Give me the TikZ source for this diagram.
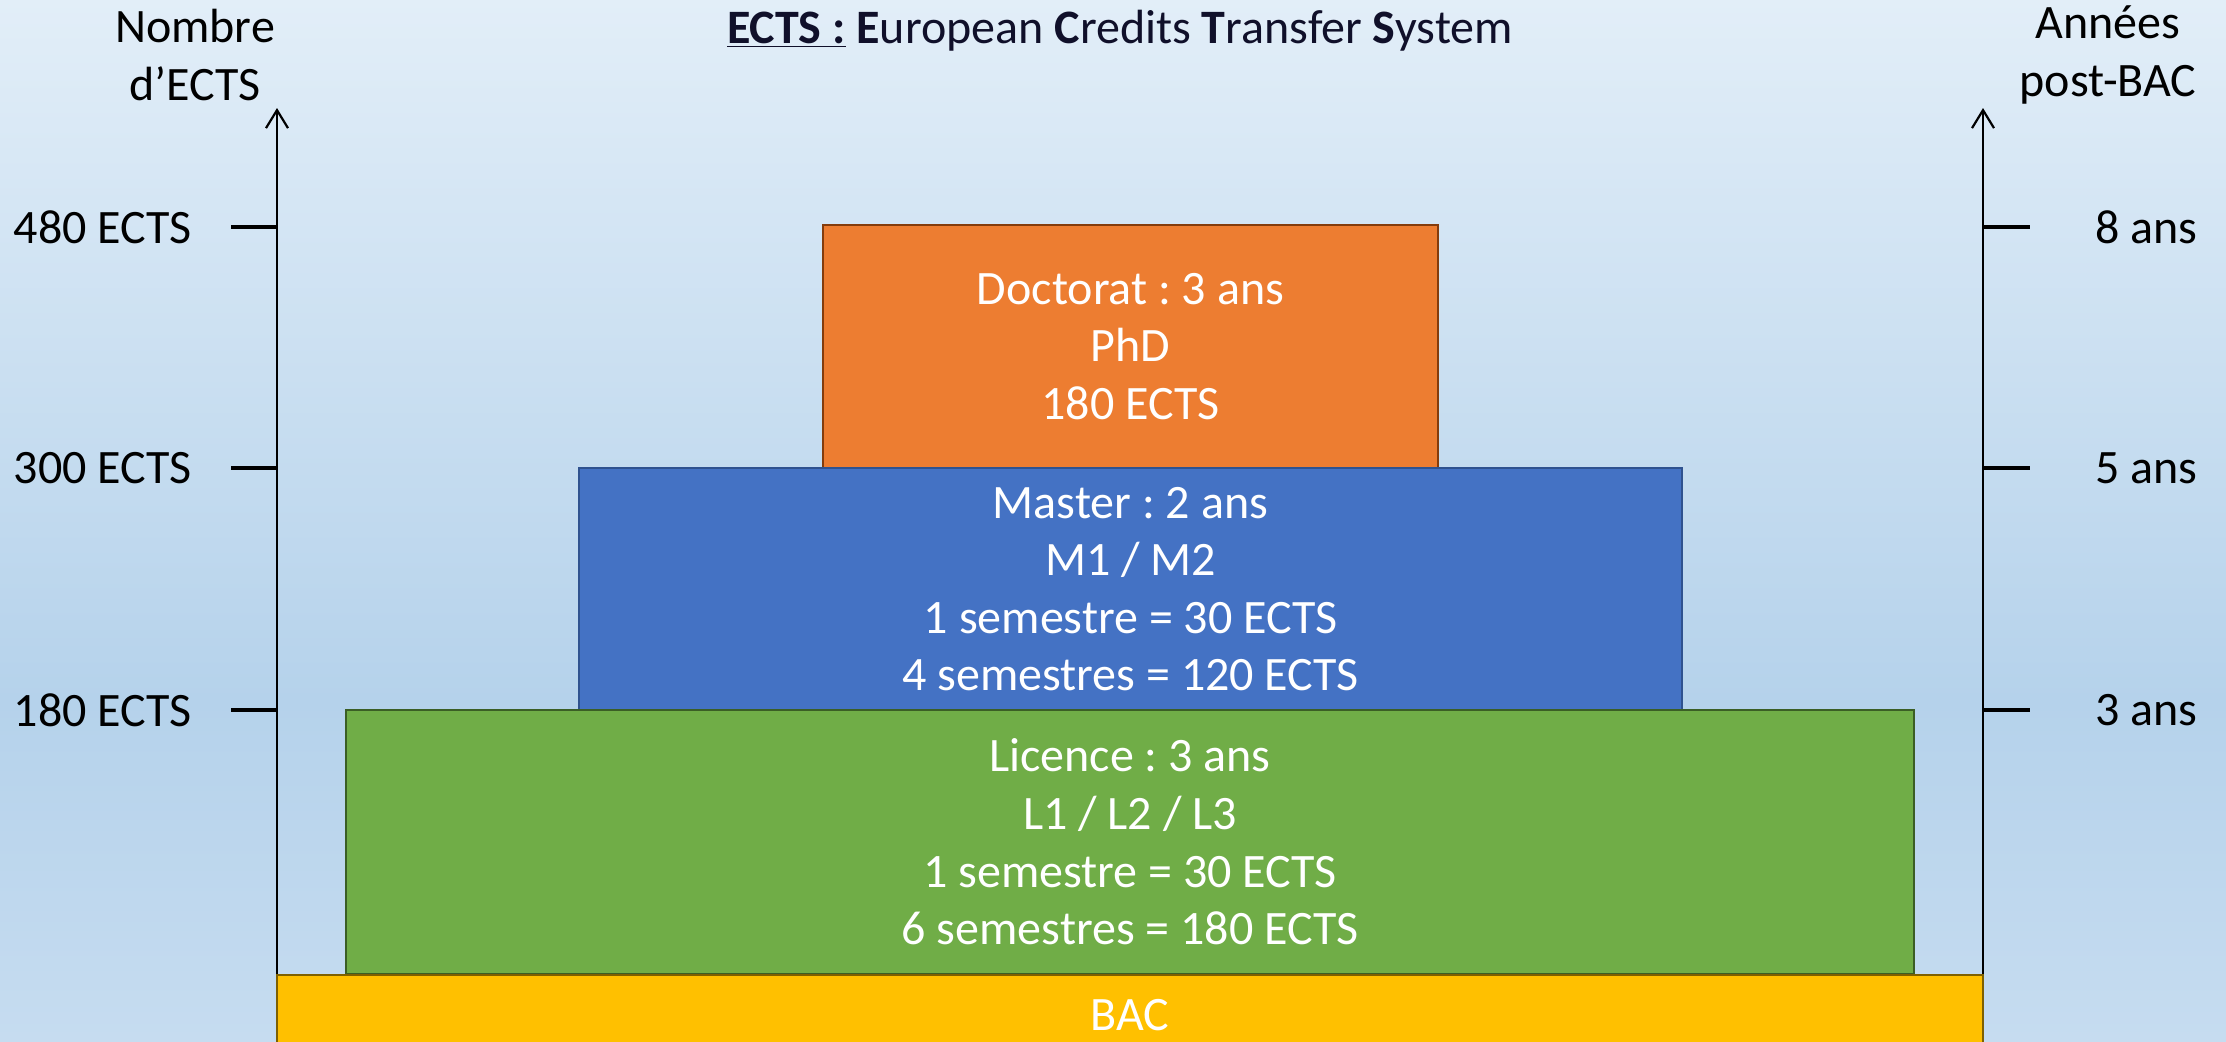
\documentclass[tikz,border=0pt]{standalone}
\usepackage{fontspec}
\setmainfont{Carlito}
\usetikzlibrary{arrows.meta}
\frenchspacing
\definecolor{bgtop}{HTML}{E2EEF8}
\definecolor{bgmid}{HTML}{B5D2EB}
\definecolor{bgbot}{HTML}{C6DCF0}
\definecolor{docfill}{HTML}{ED7D31}
\definecolor{docline}{HTML}{843C0C}
\definecolor{masfill}{HTML}{4472C4}
\definecolor{masline}{HTML}{2F528F}
\definecolor{licfill}{HTML}{70AD47}
\definecolor{licline}{HTML}{3B5E25}
\definecolor{bacfill}{HTML}{FFC000}
\definecolor{bacline}{HTML}{7F6000}
\definecolor{titlecol}{HTML}{10102A}
\begin{document}
\begin{tikzpicture}[x=0.5pt,y=-0.5pt,
  txt/.style={font=\frenchspacing\fontsize{24}{28.8}\selectfont, inner sep=0pt},
  lvl/.style={txt, draw, line width=1pt, text=white, align=center},
  axis/.style={line width=1.25pt, -{Straight Barb[length=9pt,width=11pt,line width=1.1pt]}},
  tick/.style={line width=1.75pt}]
\useasboundingbox (0,0) rectangle (2226,1041);
\shade[top color=bgtop, bottom color=bgmid] (0,0) rectangle (2226,700);
\shade[top color=bgmid, bottom color=bgbot] (0,700) rectangle (2226,1041);

% title
\node[txt, text=titlecol, anchor=base] (title) at (1120,43)
  {\underline{\textbf{ECTS :}} \textbf{E}uropean \textbf{C}redits \textbf{T}ransfer \textbf{S}ystem};

% boxes
\node[lvl, fill=docfill, draw=docline, minimum width=307.5pt, minimum height=121.5pt] (doc) at (1130.5,346.5)
  {Doctorat : 3 ans\\PhD\\180 ECTS};
\node[lvl, fill=masfill, draw=masline, minimum width=551.5pt, minimum height=121pt] (mas) at (1130.5,589)
  {Master : 2 ans\\M1 / M2\\1 semestre = 30 ECTS\\4 semestres = 120 ECTS};
\node[lvl, fill=licfill, draw=licline, minimum width=784pt, minimum height=132pt] (lic) at (1130,842)
  {Licence : 3 ans\\L1 / L2 / L3\\1 semestre = 30 ECTS\\6 semestres = 180 ECTS};

% axes
\coordinate (lbot) at (277,974);
\coordinate (ltop) at (277,108);
\coordinate (rbot) at (1983,974);
\coordinate (rtop) at (1983,108);
\draw[axis] (lbot) -- (ltop);
\draw[axis] (rbot) -- (rtop);

\node[lvl, fill=bacfill, draw=bacline, minimum width=853pt, minimum height=40pt, anchor=north] (bac) at (1130,974)
  {BAC};

% left axis labels
\node[txt, align=center] (lname) at (195,55) {Nombre\\d’ECTS};
\foreach \n/\v/\y in {l480/480/227, l300/300/468, l180/180/710}{
  \draw[tick] (277,\y) -- (231,\y);
  \node[txt, anchor=east] (\n) at (192,\y) {\v{} ECTS};
}
% right axis labels
\node[txt, align=center] (rname) at (2108,55) {Années\\post-BAC};
\foreach \n/\v/\y in {r8/8/227, r5/5/468, r3/3/710}{
  \draw[tick] (1983,\y) -- (2030,\y);
  \node[txt, anchor=east] (\n) at (2198,\y) {\v{} ans};
}
\end{tikzpicture}
\end{document}
